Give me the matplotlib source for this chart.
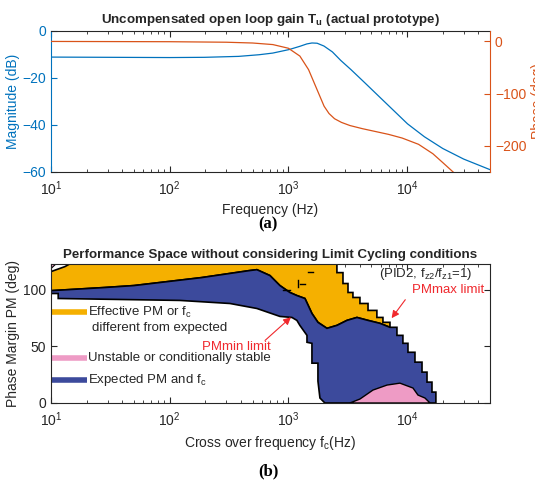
import matplotlib
matplotlib.use('Agg')
import matplotlib.pyplot as plt
from matplotlib.ticker import LogLocator, NullFormatter

plt.rcParams['font.family'] = ['Liberation Sans', 'DejaVu Sans']
plt.rcParams['mathtext.fontset'] = 'custom'
plt.rcParams['mathtext.rm'] = 'Liberation Sans'
plt.rcParams['mathtext.it'] = 'Liberation Sans:italic'
plt.rcParams['mathtext.bf'] = 'Liberation Sans:bold'

# ---------------- data: panel (a) ----------------
mag_f = [10, 100, 196, 381, 566, 738, 1014, 1253, 1431, 1580, 1746, 1995, 2350,
         2760, 3380, 4400, 6130, 10090, 14000, 20000, 30000, 50000]
mag_db = [-11.1, -11.3, -11.2, -10.8, -10.1, -9.4, -7.9, -6.5, -5.5, -5.1, -5.2,
          -6.4, -8.9, -12.5, -16.5, -22.0, -29.0, -39.5, -45.0, -50.0, -54.5, -59.0]
ph_f = [10, 100, 300, 500, 740, 1000, 1250, 1480, 1750, 2000, 2200, 2450, 2800, 3300,
        4200, 5300, 7000, 9100, 12500, 16500, 20000, 25000]
ph_deg = [0, -0.5, -1.5, -3, -6, -13, -28, -54, -93, -124, -138, -148, -155, -161,
          -167, -172, -178, -185, -197, -215, -232, -252]

# ---------------- data: panel (b) ----------------
blue_top_f = [10, 28.5, 50, 185, 470, 543, 700, 849, 1030, 1180, 1380, 1580, 1775,
              2115, 2565, 3115, 3785, 4690, 5915, 7180]
blue_top_pm = [99, 101.8, 103.5, 110.5, 116.7, 117.5, 112.3, 103.5, 97.4, 94.7, 92.1,
               78.9, 71.1, 65.8, 68.4, 72.8, 75.4, 72.8, 70.2, 66.7]
blue_right_f = [7180, 8220, 9230, 10180, 11660, 13370, 14730, 16220, 17500]
blue_right_pm = [66.7, 59.6, 52.6, 44.7, 36.0, 27.2, 18.4, 9.6, 0]
blue_low_f = [10, 11.5, 11.5, 122, 322, 543, 849, 1072, 1180, 1250, 1435, 1435,
              1580, 1580, 1775, 1775, 1845, 2030]
blue_low_pm = [96.5, 96.5, 92.1, 90.4, 87.7, 83.3, 76.3, 75.4, 72.8, 68.4, 59.6, 53.5,
               52.6, 35.1, 35.1, 19.3, 4.4, 0]
orange_left_f = [10, 10, 13.1, 19.3, 2330]
orange_left_pm = [99, 115.8, 120.2, 130, 130]
orange_right_f = [2330, 2565, 2885, 3180, 3500, 4010, 4690, 5570, 6265, 7180]
orange_right_pm = [130, 114.9, 105.3, 97.4, 93.0, 87.7, 81.6, 75.4, 71.1, 66.7]
pink_f = [3300, 4010, 5160, 6775, 8710, 11220, 12360, 14150, 15610]
pink_pm = [0, 3.5, 11.4, 15.8, 17.5, 13.2, 7.0, 4.4, 0]
pink_corner_f = [10, 11.4, 10]
pink_corner_pm = [118.5, 124, 124]
marks_f = [[1462, 1610], [900, 1030], [1254, 1380], [1210, 1210]]
marks_pm = [[115.8, 115.8], [100, 100], [105, 105], [102, 108]]
legend_pm = [80, 40, 20]
legend_f = [10, 20]
legend_txt = [r'Effective PM or f$_{\rm c}$', 'Unstable or conditionally stable',
              r'Expected PM and f$_{\rm c}$']

C_BLUE = '#0072BD'
C_ORNG = '#D95319'
C_REG_O = '#F5B000'
C_REG_B = '#3C4A9C'
C_REG_P = '#EE9BC5'
C_RED = '#F0282D'
C_TXT = '#262626'

fig = plt.figure(figsize=(5.35, 4.83), dpi=100)

# ---------------- panel (a) ----------------
ax1 = fig.add_axes([51/535, 1-172/483, 439/535, 141/483])
ax1r = ax1.twinx()
ax1.semilogx(mag_f, mag_db, color=C_BLUE, lw=0.9)
ax1r.semilogx(ph_f, ph_deg, color=C_ORNG, lw=0.9)
ax1.set_xlim(10, 5e4)
ax1.set_ylim(-60, 0)
ax1r.set_ylim(-250, 20)
ax1.set_yticks([0, -20, -40, -60])
ax1r.set_yticks([0, -100, -200])
ax1.xaxis.set_major_locator(LogLocator(base=10, numticks=10))
ax1.xaxis.set_minor_locator(LogLocator(base=10, subs=range(2, 10), numticks=20))
ax1.xaxis.set_minor_formatter(NullFormatter())
ax1.tick_params(axis='x', which='both', direction='in', top=True, colors=C_TXT,
                labelsize=10, pad=5)
ax1.tick_params(axis='x', which='major', length=4)
ax1.tick_params(axis='x', which='minor', length=2)
ax1.tick_params(axis='y', direction='in', colors=C_BLUE, labelsize=10, length=4)
ax1r.tick_params(axis='y', direction='in', colors=C_ORNG, labelsize=10, length=4)
for sp in ['top', 'bottom']:
    ax1.spines[sp].set_color(C_TXT)
    ax1r.spines[sp].set_visible(False)
ax1.spines['left'].set_color(C_BLUE)
ax1.spines['right'].set_visible(False)
ax1r.spines['left'].set_visible(False)
ax1r.spines['right'].set_color(C_ORNG)
ax1.set_ylabel('Magnitude (dB)', color=C_BLUE, fontsize=10, labelpad=2)
ax1r.set_ylabel('Phase (deg)', color=C_ORNG, fontsize=10, labelpad=3)
ax1.set_xlabel('Frequency (Hz)', color=C_TXT, fontsize=10, labelpad=4)
ax1.set_title(r'Uncompensated open loop gain T$_{\mathbf{u}}$ (actual prototype)',
              fontsize=9.6, fontweight='bold', color=C_TXT, pad=6)

# ---------------- panel (b) ----------------
def stairs(f, pm):
    xs, ys = [f[0]], [pm[0]]
    for i in range(1, len(f)):
        xs += [f[i], f[i]]
        ys += [pm[i - 1], pm[i]]
    return xs, ys

ax2 = fig.add_axes([51/535, 1-403/483, 439/535, 139/483])
ax2.set_xscale('log')

orx, ory = stairs(orange_right_f, orange_right_pm)
o_x = orange_left_f + orx[1:] + blue_top_f[::-1]
o_y = orange_left_pm + ory[1:] + blue_top_pm[::-1]
ax2.fill(o_x, o_y, facecolor=C_REG_O, edgecolor='black', lw=1.2, zorder=2)

brx, bry = stairs(blue_right_f, blue_right_pm)
b_x = blue_top_f + brx[1:] + blue_low_f[::-1]
b_y = blue_top_pm + bry[1:] + blue_low_pm[::-1]
ax2.fill(b_x, b_y, facecolor=C_REG_B, edgecolor='black', lw=1.2, zorder=3)

ax2.fill(pink_f, pink_pm, facecolor=C_REG_P, edgecolor='black', lw=1.0, zorder=4)
ax2.fill(pink_corner_f, pink_corner_pm, facecolor=C_REG_P, edgecolor='black', lw=0.8, zorder=4)
for mf, mp in zip(marks_f, marks_pm):
    ax2.plot(mf, mp, color='black', lw=1.0, zorder=5)

leg_cols = [C_REG_O, C_REG_P, C_REG_B]
for pm, col, txt in zip(legend_pm, leg_cols, legend_txt):
    ax2.plot(legend_f, [pm, pm], color=col, lw=4, solid_capstyle='butt', zorder=6)
    ax2.text(20.5, pm, txt, fontsize=9.5, color=C_TXT, va='center', ha='left', zorder=6)
ax2.text(22, 66, 'different from expected', fontsize=9.5, color=C_TXT, va='center', ha='left')

ax2.annotate('', xy=(1094, 77.2), xytext=(611, 53.5),
             arrowprops=dict(arrowstyle='-|>', color=C_RED, lw=0.8, mutation_scale=11), zorder=7)
ax2.text(362, 49, 'PMmin limit', color=C_RED, fontsize=9.5, ha='center', va='center', zorder=7)
ax2.annotate('', xy=(7180, 72.8), xytext=(9980, 93),
             arrowprops=dict(arrowstyle='-|>', color=C_RED, lw=0.8, mutation_scale=11), zorder=7)
ax2.text(22100, 99.5, 'PMmax limit', color=C_RED, fontsize=9.5, ha='center', va='center', zorder=7)
ax2.text(14400, 114, r'(PID2, f$_{\rm z2}$/f$_{\rm z1}$=1)', color=C_TXT, fontsize=9.5,
         ha='center', va='center', zorder=7)

ax2.set_xlim(10, 5e4)
ax2.set_ylim(0, 122.5)
ax2.set_yticks([0, 50, 100])
ax2.xaxis.set_major_locator(LogLocator(base=10, numticks=10))
ax2.xaxis.set_minor_locator(LogLocator(base=10, subs=range(2, 10), numticks=20))
ax2.xaxis.set_minor_formatter(NullFormatter())
ax2.tick_params(which='both', direction='in', top=True, right=True, colors=C_TXT, labelsize=10)
ax2.tick_params(axis='x', pad=5)
ax2.tick_params(which='major', length=4)
ax2.tick_params(which='minor', length=2)
for sp in ax2.spines.values():
    sp.set_color(C_TXT)
    sp.set_zorder(10)
ax2.set_ylabel('Phase Margin PM (deg)', color=C_TXT, fontsize=10, labelpad=2)
ax2.set_xlabel(r'Cross over frequency f$_{\rm c}$(Hz)', color=C_TXT, fontsize=10, labelpad=4)
ax2.set_title('Performance Space without considering Limit Cycling conditions',
              fontsize=9.6, fontweight='bold', color=C_TXT, pad=4)

fig.text(268/535, 1-224/483, '(a)', fontsize=12, fontweight='bold', family='Liberation Serif',
         ha='center', va='center', color='black')
fig.text(268/535, 1-471/483, '(b)', fontsize=12, fontweight='bold', family='Liberation Serif',
         ha='center', va='center', color='black')

fig.savefig('out.png', dpi=100)
